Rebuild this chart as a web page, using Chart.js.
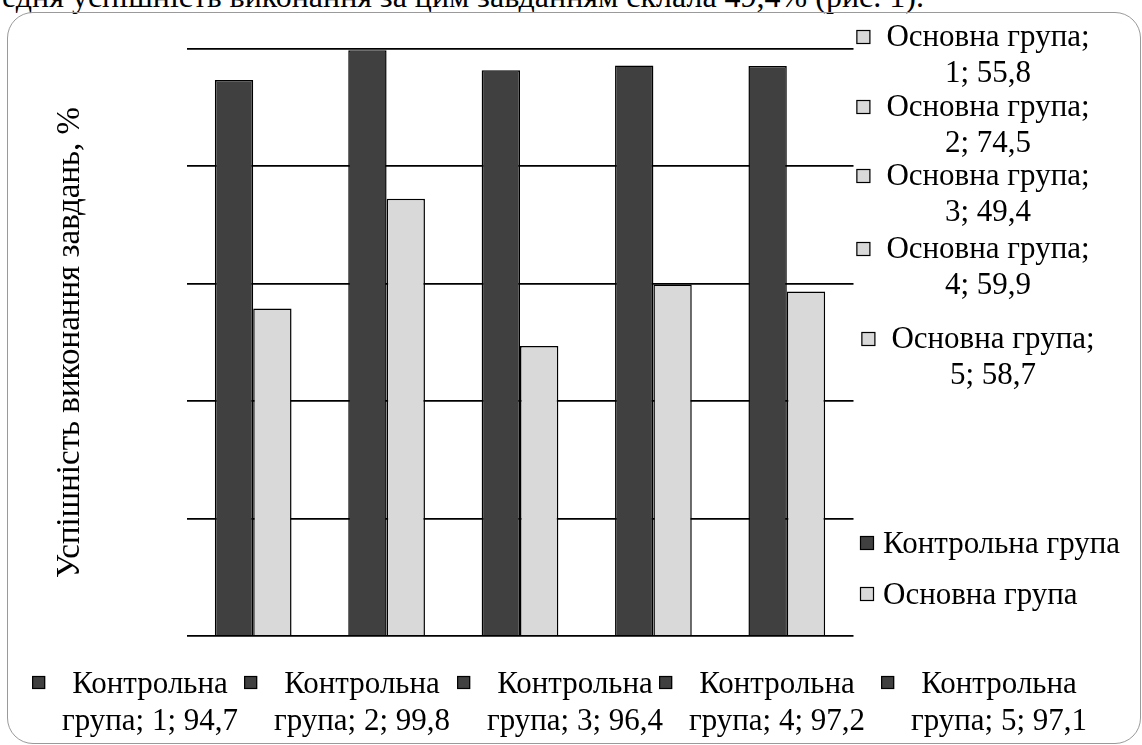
<!DOCTYPE html>
<html>
<head>
<meta charset="utf-8">
<script src="https://cdn.jsdelivr.net/npm/chart.js@4/dist/chart.umd.min.js"></script>
<style>
  html, body { margin:0; padding:0; background:#fff; overflow:hidden; }
  body { width:1142px; height:745px; position:relative; }
  #doc { position:absolute; left:2px; top:-22px; white-space:nowrap; font-family:"Liberation Serif", "Times New Roman", serif; font-size:32px; line-height:36px; color:#000; }
  #frame { position:absolute; left:7px; top:12px; width:1134px; height:732px; box-sizing:border-box; border:1.5px solid #9a9a9a; border-radius:26px; }
  #c { position:absolute; left:0; top:0; }
</style>
</head>
<body>
<div id="doc">едня успішність виконання за цим завданням склала 49,4% (рис. 1).</div>
<div id="frame"></div>
<canvas id="c" width="1142" height="745"></canvas>
<script>
// ---- data ----
const categories = ['1', '2', '3', '4', '5'];
const seriesNames = ['Контрольна група', 'Основна група'];
const controlValues = [94.7, 99.8, 96.4, 97.2, 97.1];
const basicValues = [55.8, 74.5, 49.4, 59.9, 58.7];
const yTitle = 'Успішність виконання завдань, %';
const yMin = 0, yMax = 100, yStep = 20;

// ---- styling / label layout ----
const colors = ['#404040', '#d9d9d9'];
const FONT = '"Liberation Serif", "Times New Roman", serif';
const FS = 31;
const bottomLabelX = [150, 362, 575, 777, 999];
const bottomLine1Y = 685, bottomLine2Y = 722;
const rightLabelX = [988, 988, 988, 988, 993];
const rightLine1Y = [38, 108, 177, 250, 340];
const rightLineGap = 36;
const legendX = 860, legendY = [544, 595];

function fmt(v) { return String(v).replace('.', ','); }

function marker(ctx, x, y, size, fill) {
  ctx.fillStyle = fill;
  ctx.fillRect(x, y, size, size);
  ctx.strokeStyle = '#000';
  ctx.lineWidth = 1.2;
  ctx.strokeRect(x + 0.5, y + 0.5, size - 1, size - 1);
}

const labelPlugin = {
  id: 'labelPlugin',
  afterDatasetsDraw(chart) {
    const ctx = chart.ctx;
    ctx.save();
    ctx.font = FS + 'px ' + FONT;
    ctx.textBaseline = 'middle';
    ctx.fillStyle = '#000';
    const ds = chart.data.datasets;
    // control group labels (bottom)
    const [c1, c2] = seriesNames[0].split(' ');
    ds[0].data.forEach((v, i) => {
      const cx = bottomLabelX[i];
      const w1 = ctx.measureText(c1).width;
      const start = cx - w1 / 2;
      marker(ctx, start - 40, bottomLine1Y - 9, 13, colors[0]);
      ctx.fillStyle = '#000';
      ctx.textAlign = 'center';
      ctx.fillText(c1, cx, bottomLine1Y);
      ctx.fillText(c2 + '; ' + chart.data.labels[i] + '; ' + fmt(v), cx, bottomLine2Y);
    });
    // basic group labels (right)
    ds[1].data.forEach((v, i) => {
      const cx = rightLabelX[i];
      const t1 = seriesNames[1] + ';';
      const w1 = ctx.measureText(t1).width;
      const start = cx - w1 / 2;
      const y1 = rightLine1Y[i];
      marker(ctx, start - 30, y1 - 8, 14, colors[1]);
      ctx.fillStyle = '#000';
      ctx.textAlign = 'center';
      ctx.fillText(t1, cx, y1);
      ctx.fillText(chart.data.labels[i] + '; ' + fmt(v), cx, y1 + rightLineGap);
    });
    // legend
    ds.forEach((d, k) => {
      marker(ctx, legendX, legendY[k] - 8, 14, colors[k]);
      ctx.fillStyle = '#000';
      ctx.textAlign = 'left';
      ctx.fillText(d.label, legendX + 23, legendY[k] + 1);
    });
    ctx.restore();
  }
};

new Chart(document.getElementById('c'), {
  type: 'bar',
  data: {
    labels: categories,
    datasets: [
      { label: seriesNames[0], data: controlValues, backgroundColor: colors[0], borderColor: '#000', borderWidth: 1.5 },
      { label: seriesNames[1], data: basicValues, backgroundColor: colors[1], borderColor: '#000', borderWidth: 1.5 }
    ]
  },
  options: {
    responsive: false,
    animation: false,
    events: [],
    layout: { padding: { left: 0, right: 288.5, top: 49, bottom: 109 } },
    datasets: { bar: { categoryPercentage: 0.575, barPercentage: 1 } },
    plugins: { legend: { display: false }, tooltip: { enabled: false } },
    scales: {
      x: { display: false },
      y: {
        min: yMin, max: yMax,
        ticks: { display: false, stepSize: yStep },
        grid: { color: '#000', lineWidth: 1.8, drawTicks: false },
        border: { display: false },
        title: { display: true, text: yTitle, color: '#000', font: { family: FONT, size: 33, lineHeight: 1.2 }, padding: { top: 51, bottom: 0 } },
        afterFit(scale) { scale.width = 186.5; }
      }
    }
  },
  plugins: [labelPlugin]
});
</script>
</body>
</html>
